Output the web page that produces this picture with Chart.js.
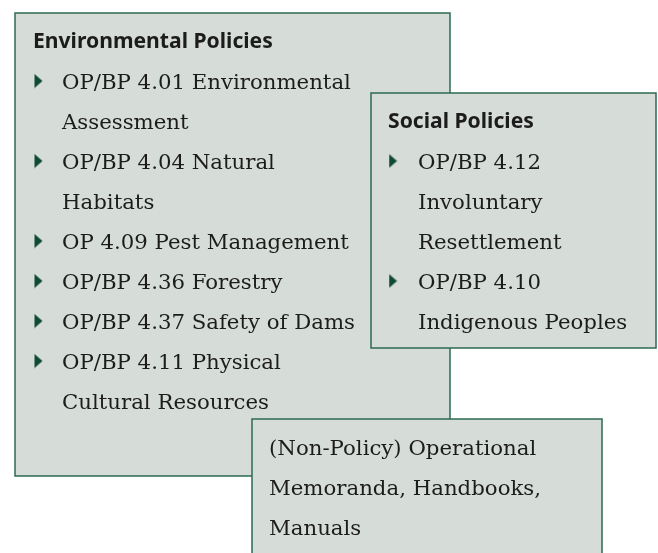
<!DOCTYPE html>
<html>
<head>
<meta charset="utf-8">
<script src="https://cdn.jsdelivr.net/npm/chart.js@4"></script>
<style>
  body { margin: 0; background: #ffffff; }
  #wrap { width: 658px; height: 553px; position: relative; }
</style>
</head>
<body>
<div id="wrap"><canvas id="policyChart"></canvas></div>
<script>
// panel content
const envTitle = "Environmental Policies";
const envItems = [
    ["OP/BP 4.01 Environmental", "Assessment"],
    ["OP/BP 4.04 Natural", "Habitats"],
    ["OP 4.09 Pest Management"],
    ["OP/BP 4.36 Forestry"],
    ["OP/BP 4.37 Safety of Dams"],
    ["OP/BP 4.11 Physical", "Cultural Resources"]
];
const socTitle = "Social Policies";
const socItems = [
    ["OP/BP 4.12", "Involuntary", "Resettlement"],
    ["OP/BP 4.10", "Indigenous Peoples"]
];
const noteLines = ["(Non-Policy) Operational", "Memoranda, Handbooks,", "Manuals"];

// layout (chart units = pixels, y down)
const W = 658, H = 553;
const LINE = 40;
const panels = [
    { box: [15, 13, 450, 476], titleX: 33, titleY: 48, textX: 62, bulletX: 38.5, firstY: 89, title: envTitle, items: envItems },
    { box: [371, 93, 656, 348], titleX: 388, titleY: 128, textX: 418, bulletX: 393, firstY: 169, title: socTitle, items: socItems },
    { box: [252, 419, 602, 560], textX: 269, firstY: 455, title: null, items: [noteLines], noBullet: true }
];

const FILL = "#d6dcd8";
const EDGE = "#2c6b52";
const BULLET = "#0f4b34";
const INK = "#1c1c1c";

// fit font sizes to the widths measured on the reference
function fitFont(style, family, sample, target) {
    const c = document.createElement("canvas").getContext("2d");
    c.font = style + " 20px " + family;
    const size = 20 * target / c.measureText(sample).width;
    return style + " " + size.toFixed(2) + "px " + family;
}
const SANS = fitFont("bold", "'Noto Sans'", envTitle, 240);
const SERIF = fitFont("normal", "'DejaVu Serif'", envItems[0][0], 289);

// bullet glyph
const tri = document.createElement("canvas");
tri.width = 9; tri.height = 15;
(function () {
    const c = tri.getContext("2d");
    c.fillStyle = BULLET;
    c.beginPath();
    c.moveTo(0.5, 0.5);
    c.lineTo(8.5, 7.5);
    c.lineTo(0.5, 14.5);
    c.closePath();
    c.fill();
})();

function bulletPoints() {
    const pts = [];
    panels.forEach(p => {
        if (p.noBullet) return;
        let line = 0;
        p.items.forEach(item => {
            pts.push({ x: p.bulletX, y: p.firstY + line * LINE - 8 });
            line += item.length;
        });
    });
    return pts;
}

const panelPlugin = {
    id: "panels",
    beforeDatasetsDraw(chart) {
        const ctx = chart.ctx;
        const xs = chart.scales.x, ys = chart.scales.y;
        ctx.save();
        panels.forEach(p => {
            const x0 = xs.getPixelForValue(p.box[0]), y0 = ys.getPixelForValue(p.box[1]);
            const x1 = xs.getPixelForValue(p.box[2]), y1 = ys.getPixelForValue(p.box[3]);
            ctx.fillStyle = FILL;
            ctx.fillRect(x0, y0, x1 - x0, y1 - y0);
            ctx.strokeStyle = EDGE;
            ctx.lineWidth = 1.5;
            ctx.strokeRect(x0, y0, x1 - x0, y1 - y0);

            ctx.fillStyle = INK;
            ctx.textBaseline = "alphabetic";
            ctx.textAlign = "left";
            if (p.title) {
                ctx.font = SANS;
                ctx.fillText(p.title, xs.getPixelForValue(p.titleX), ys.getPixelForValue(p.titleY));
            }
            ctx.font = SERIF;
            let line = 0;
            p.items.forEach(item => {
                item.forEach(txt => {
                    ctx.fillText(txt, xs.getPixelForValue(p.textX), ys.getPixelForValue(p.firstY + line * LINE));
                    line++;
                });
            });
        });
        ctx.restore();
    }
};

new Chart(document.querySelector("#policyChart"), {
    type: "scatter",
    data: {
        datasets: [{
            data: bulletPoints(),
            pointStyle: tri,
            pointRadius: 5,
            pointHoverRadius: 5,
            clip: false
        }]
    },
    options: {
        responsive: true,
        maintainAspectRatio: false,
        animation: false,
        events: [],
        layout: { padding: 0, autoPadding: false },
        plugins: { legend: { display: false }, tooltip: { enabled: false } },
        scales: {
            x: { type: "linear", min: 0, max: W, display: false },
            y: { type: "linear", min: 0, max: H, reverse: true, display: false }
        }
    },
    plugins: [panelPlugin]
});
</script>
</body>
</html>
